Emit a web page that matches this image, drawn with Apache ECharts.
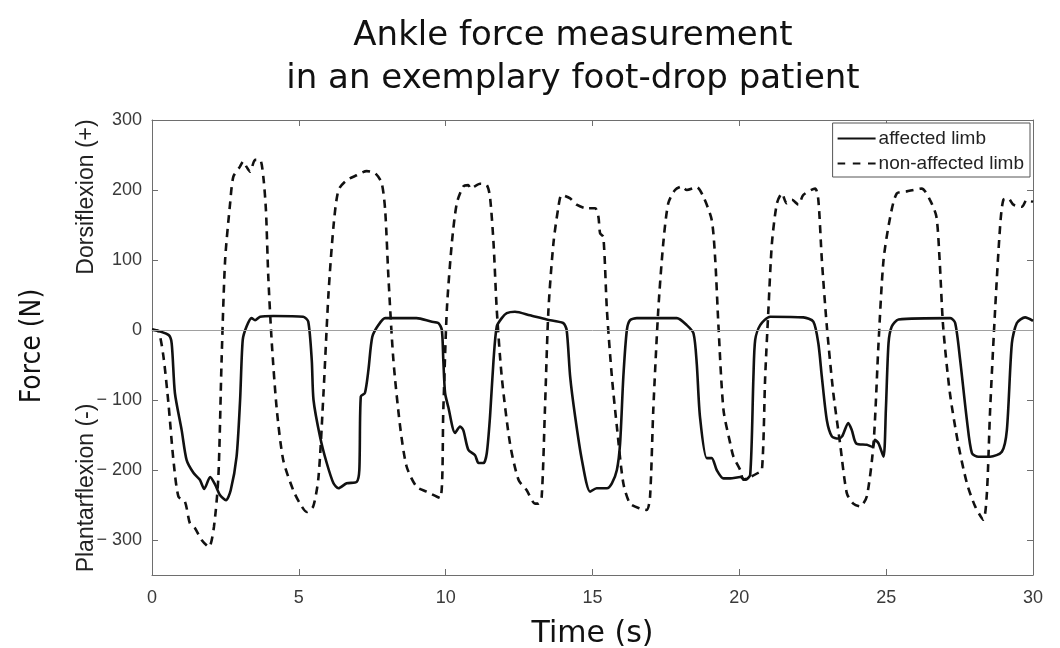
<!DOCTYPE html>
<html><head><meta charset="utf-8">
<script src="https://cdn.jsdelivr.net/npm/echarts@6/dist/echarts.min.js"></script>
<style>html,body{margin:0;padding:0;background:#fff}#c{width:1060px;height:648px}</style>
</head><body><div id="c"></div>
<script>
const titleLines = ["Ankle force measurement", "in an exemplary foot-drop patient"];
const seriesNames = ["affected limb", "non-affected limb"];
const xTicks = [0, 5, 10, 15, 20, 25, 30];
const yTicks = [-300, -200, -100, 0, 100, 200, 300];

const affectedT = [0,0.56,0.67,0.78,1.01,1.18,1.41,1.63,1.78,1.98,2.15,2.32,2.52,2.68,2.88,3.0,3.09,3.22,3.39,3.51,3.68,4.14,5.15,5.32,5.44,5.5,5.72,5.95,6.18,6.35,6.63,6.97,7.06,7.11,7.25,7.37,7.5,7.71,7.94,9.01,9.5,9.75,9.87,9.92,9.98,10.09,10.32,10.49,10.6,10.77,11.0,11.12,11.29,11.4,11.51,11.63,11.74,11.91,12.08,12.36,12.87,13.44,14.0,14.12,14.24,14.41,14.64,14.92,15.14,15.49,15.66,15.83,15.94,16.05,16.17,16.28,16.51,17.87,18.21,18.44,18.55,18.66,18.89,19.06,19.23,19.46,19.69,20.03,20.2,20.37,20.48,20.54,20.71,21.05,22.18,22.52,22.69,22.81,22.98,23.15,23.37,23.5,23.71,23.83,23.98,24.34,24.54,24.62,24.74,24.91,24.99,25.08,25.19,25.42,27.18,27.35,27.52,27.75,27.92,28.14,28.54,28.94,29.11,29.28,29.45,29.73,30.0];
const affectedV = [1,-7,-19,-90,-143,-186,-204,-214,-227,-210,-221,-236,-243,-229,-181,-100,-14,5,17,14,19,20,19,12,-43,-100,-152,-190,-219,-226,-219,-217,-200,-95,-90,-57,-10,7,17,17,12,10,0,-43,-90,-110,-147,-138,-143,-171,-179,-190,-190,-176,-124,-43,5,17,24,26,21,15,10,0,-67,-124,-186,-231,-226,-226,-219,-200,-162,-67,0,14,17,17,7,-5,-48,-124,-183,-183,-200,-212,-212,-210,-214,-207,-67,-14,7,19,18,12,-19,-67,-129,-152,-155,-152,-133,-143,-162,-164,-167,-157,-162,-181,-114,-19,5,15,17,10,-43,-129,-176,-181,-181,-174,-143,-19,10,18,13];

const nonAffectedT = [0,0.22,0.39,0.56,0.73,0.9,1.12,1.29,1.46,1.69,1.94,2.11,2.26,2.37,2.49,2.66,2.77,2.99,3.11,3.22,3.34,3.51,3.68,3.79,3.88,3.96,4.08,4.25,4.47,4.81,5.04,5.27,5.49,5.67,5.84,6.01,6.18,6.35,6.63,6.97,7.31,7.6,7.82,7.94,8.05,8.22,8.45,8.67,9.01,9.35,9.81,9.92,10.04,10.21,10.38,10.6,10.77,10.85,11.17,11.4,11.51,11.63,11.74,11.91,12.19,12.48,12.76,13.04,13.16,13.27,13.38,13.5,13.67,13.84,13.95,14.24,14.46,14.8,15.09,15.2,15.26,15.37,15.49,15.66,15.83,16.05,16.28,16.62,16.85,16.96,17.07,17.24,17.41,17.58,17.81,18.04,18.21,18.55,18.78,19.06,19.18,19.29,19.46,19.69,19.8,20.03,20.14,20.37,20.6,20.77,20.88,20.99,21.11,21.28,21.45,21.61,21.79,22.01,22.18,22.58,22.69,22.81,22.98,23.2,23.43,23.66,23.88,24.11,24.34,24.57,24.74,24.91,25.14,25.36,25.7,26.21,26.49,26.71,26.82,26.94,27.17,27.45,27.75,28.03,28.31,28.43,28.54,28.71,28.88,28.99,29.16,29.33,29.62,29.79,30.0];
const nonAffectedV = [0,-2,-38,-105,-186,-238,-245,-276,-283,-300,-310,-281,-210,-43,100,181,219,233,241,233,226,243,243,219,171,76,-19,-114,-186,-229,-248,-260,-252,-210,-90,52,148,200,214,221,227,224,210,171,76,-43,-138,-195,-224,-231,-240,-114,29,124,181,205,207,202,209,207,190,124,29,-67,-162,-214,-229,-248,-248,-238,-114,29,124,176,193,188,179,174,174,162,138,133,29,-67,-138,-219,-248,-255,-257,-238,-114,29,124,181,200,205,200,204,190,157,100,5,-114,-162,-181,-200,-214,-210,-205,-200,-67,29,124,181,195,181,186,179,193,202,186,100,5,-90,-162,-233,-248,-252,-238,-162,-19,100,162,195,198,202,186,162,100,5,-90,-162,-219,-252,-271,-233,-114,29,148,186,188,179,176,186,183];

const zip = (t, v) => t.map((x, i) => [x, v[i]]);
const axisGray = '#6e6e6e';
const labelCol = '#3a3a3a';
const minus = v => String(v).replace('-', '\u2212 ');

const chart = echarts.init(document.getElementById('c'), null, {renderer: 'canvas'});
const xBase = {type: 'value', min: 0, max: 30, interval: 5, splitLine: {show: false},
  axisLine: {show: true, onZero: false, lineStyle: {color: axisGray, width: 1}},
  axisTick: {show: true, inside: true, length: 6, lineStyle: {color: axisGray}}};
const yBase = {type: 'value', min: -350, max: 300, splitLine: {show: false},
  axisLine: {show: true, onZero: false, lineStyle: {color: axisGray, width: 1}},
  axisTick: {show: true, inside: true, length: 6, customValues: yTicks, lineStyle: {color: axisGray}}};

chart.setOption({
  animation: false,
  backgroundColor: '#fff',
  grid: {left: 152, right: 27, top: 120, bottom: 73, show: false, containLabel: false, outerBoundsMode: 'none'},
  xAxis: [
    Object.assign({}, xBase, {position: 'bottom',
      axisLabel: {show: true, color: labelCol, fontFamily: 'Liberation Sans', fontSize: 18, margin: 14},
      name: 'Time (s)', nameLocation: 'middle', nameGap: 44,
      nameTextStyle: {fontFamily: 'DejaVu Sans', fontSize: 30, color: '#111'}}),
    Object.assign({}, xBase, {position: 'top', axisLabel: {show: false}})
  ],
  yAxis: [
    Object.assign({}, yBase, {position: 'left',
      axisLabel: {show: true, customValues: yTicks, color: labelCol, fontFamily: 'Liberation Sans', fontSize: 18, margin: 10, formatter: minus}}),
    Object.assign({}, yBase, {position: 'right', axisLabel: {show: false}})
  ],
  legend: {
    right: 30, top: 123, orient: 'vertical', itemGap: 6, itemWidth: 38, itemHeight: 3,
    padding: [6, 6, 4, 5], borderColor: '#555', borderWidth: 1, backgroundColor: '#fff',
    textStyle: {fontFamily: 'Liberation Sans', fontSize: 19, color: '#222', padding: [0,0,0,-2]},
    data: [
      {name: seriesNames[0], icon: 'path://M0,0H40V2H0Z', itemStyle: {color: '#111'}},
      {name: seriesNames[1], icon: 'path://M0,0H8V2H0ZM16,0H24V2H16ZM32,0H40V2H32Z', itemStyle: {color: '#111'}}
    ]
  },
  graphic: [
    {type: 'text', x: 573, y: 36, style: {text: titleLines[0], fontFamily: 'DejaVu Sans', fontSize: 34, fill: '#111', align: 'center', verticalAlign: 'middle'}},
    {type: 'text', x: 573, y: 79, style: {text: titleLines[1], fontFamily: 'DejaVu Sans', fontSize: 34, fill: '#111', align: 'center', verticalAlign: 'middle'}},
    {type: 'text', x: 33, y: 346, rotation: Math.PI / 2, style: {text: 'Force (N)', fontFamily: 'DejaVu Sans Condensed', fontSize: 28, fill: '#111', align: 'center', verticalAlign: 'middle'}},
    {type: 'text', x: 87, y: 197, rotation: Math.PI / 2, style: {text: 'Dorsiflexion (+)', fontFamily: 'Liberation Sans', fontSize: 23, fill: '#222', align: 'center', verticalAlign: 'middle'}},
    {type: 'text', x: 87, y: 488, rotation: Math.PI / 2, style: {text: 'Plantarflexion (-)', fontFamily: 'Liberation Sans', fontSize: 23, fill: '#222', align: 'center', verticalAlign: 'middle'}}
  ],
  series: [
    {name: seriesNames[0], type: 'line', data: zip(affectedT, affectedV), showSymbol: false, smooth: 0.25,
      lineStyle: {color: '#111', width: 2.6}, itemStyle: {color: '#111'}, z: 3,
      markLine: {silent: true, symbol: 'none', label: {show: false}, lineStyle: {color: '#a0a0a0', width: 1, type: 'solid'}, data: [{yAxis: 0}]}},
    {name: seriesNames[1], type: 'line', data: zip(nonAffectedT, nonAffectedV), showSymbol: false, smooth: 0.25,
      lineStyle: {color: '#111', width: 2.6, type: [8, 6]}, itemStyle: {color: '#111'}, z: 2}
  ]
});
</script>
</body></html>
